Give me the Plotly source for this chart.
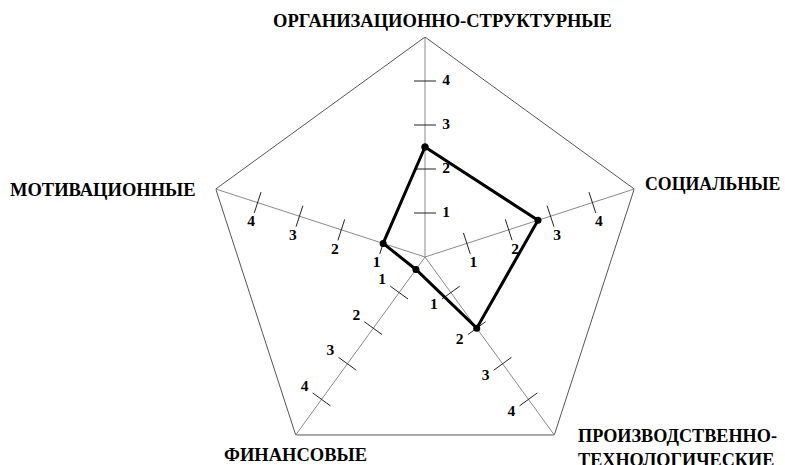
import numpy as np
import plotly.graph_objects as go

# axis names (clockwise from the top), scores and the scale ticks
categories = [
    "ОРГАНИЗАЦИОННО-СТРУКТУРНЫЕ",
    "СОЦИАЛЬНЫЕ",
    "ПРОИЗВОДСТВЕННО-<br>ТЕХНОЛОГИЧЕСКИЕ",
    "ФИНАНСОВЫЕ",
    "МОТИВАЦИОННЫЕ",
]
values = [2.5, 2.7, 2.0, 0.35, 1.0]
tick_values = [1, 2, 3, 4]
tick_labels = ["1", "2", "3", "4"]
scale_max = 5

# geometry (pixels). The star's full circle does not fit in 465 px around
# its centre, so the figure is a bit taller and the page hides the overflow.
W, H = 785, 465
H_FIG = 480
CX, CY = 425, 257      # centre of the star
UNIT = 44              # pixels per scale unit
R = scale_max * UNIT

SERIF = "Liberation Serif"

n = len(categories)
theta = [i * 360 / n for i in range(n)]

fig = go.Figure()

# outer pentagon at the top of the scale
fig.add_trace(go.Scatterpolar(r=[scale_max] * (n + 1), theta=theta + [theta[0]],
                              mode="lines", line=dict(color="#555555", width=1),
                              hoverinfo="skip"))

# tick marks across each spoke
half = 11 / UNIT
tk_r, tk_t = [], []
for t in theta:
    for k in tick_values:
        rr = np.hypot(k, half)
        dt = np.degrees(np.arctan2(half, k))
        tk_r += [rr, rr, None]
        tk_t += [t - dt, t + dt, None]
fig.add_trace(go.Scatterpolar(r=tk_r, theta=tk_t, mode="lines",
                              line=dict(color="#222222", width=1),
                              hoverinfo="skip"))

# tick labels, offset to one side of every spoke
side = [1, 1, 1, 1, -1]
off = 21 / UNIT
lb_r, lb_t, lb_s = [], [], []
for t, s in zip(theta, side):
    for k, lab in zip(tick_values, tick_labels):
        lb_r.append(np.hypot(k, off))
        lb_t.append(t + s * np.degrees(np.arctan2(off, k)))
        lb_s.append(lab)
fig.add_trace(go.Scatterpolar(r=lb_r, theta=lb_t, mode="text", text=lb_s,
                              textposition="middle center",
                              textfont=dict(family=SERIF, size=15.5, color="black", weight="bold"),
                              cliponaxis=False, hoverinfo="skip"))

# the profile
fig.add_trace(go.Scatterpolar(r=values + [values[0]], theta=theta + [theta[0]],
                              mode="lines+markers",
                              line=dict(color="black", width=3),
                              marker=dict(color="black", size=7),
                              cliponaxis=False))

# axis names next to the outer vertices
shifts = [
    dict(xanchor="center", yanchor="middle", xshift=17, yshift=16, size=18.5),
    dict(xanchor="left", yanchor="middle", xshift=9, yshift=5, size=17.8),
    dict(xanchor="left", yanchor="middle", xshift=22, yshift=-13, size=18.2),
    dict(xanchor="center", yanchor="middle", xshift=0, yshift=-20, size=18.5),
    dict(xanchor="right", yanchor="middle", xshift=-18, yshift=-1, size=18.5),
]
for name, t, sh in zip(categories, theta, shifts):
    vx = CX + R * np.sin(np.radians(t))
    vy = CY - R * np.cos(np.radians(t))
    fig.add_annotation(x=vx / W, y=1 - vy / H_FIG, xref="paper", yref="paper",
                       text=name, showarrow=False, align="left",
                       font=dict(family=SERIF, size=sh["size"], color="black", weight="bold"),
                       xanchor=sh["xanchor"], yanchor=sh["yanchor"],
                       xshift=sh["xshift"], yshift=sh["yshift"])

fig.update_layout(
    width=W, height=H_FIG,
    margin=dict(l=0, r=0, t=0, b=0),
    paper_bgcolor="white",
    showlegend=False,
    polar=dict(
        domain=dict(x=[(CX - R) / W, (CX + R) / W],
                    y=[(H_FIG - CY - R) / H_FIG, (H_FIG - CY + R) / H_FIG]),
        bgcolor="rgba(0,0,0,0)",
        radialaxis=dict(range=[0, scale_max], visible=False, showgrid=False),
        angularaxis=dict(rotation=90, direction="clockwise", thetaunit="degrees",
                         tickmode="array", tickvals=theta, showticklabels=False,
                         ticks="", showgrid=True, gridcolor="#8a8a8a", gridwidth=1,
                         showline=False),
    ),
)

fig.write_html("out.html", config={"displayModeBar": False},
               post_script="document.body.style.margin='0';"
                           "document.body.style.overflow='hidden';")
